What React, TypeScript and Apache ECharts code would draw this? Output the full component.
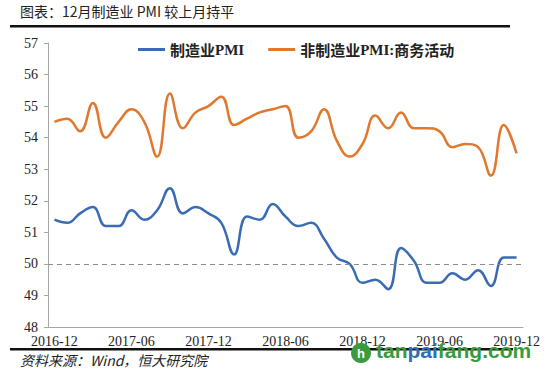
import React, { useEffect, useRef } from "react";
import * as echarts from "echarts";

const months: string[] = [
  "2016-12",
  "2017-01", "2017-02", "2017-03", "2017-04", "2017-05", "2017-06",
  "2017-07", "2017-08", "2017-09", "2017-10", "2017-11", "2017-12",
  "2018-01", "2018-02", "2018-03", "2018-04", "2018-05", "2018-06",
  "2018-07", "2018-08", "2018-09", "2018-10", "2018-11", "2018-12",
  "2019-01", "2019-02", "2019-03", "2019-04", "2019-05", "2019-06",
  "2019-07", "2019-08", "2019-09", "2019-10", "2019-11", "2019-12",
];

const manufacturingPMI: number[] = [
  51.4,
  51.3, 51.6, 51.8, 51.2, 51.2, 51.7,
  51.4, 51.7, 52.4, 51.6, 51.8, 51.6,
  51.3, 50.3, 51.5, 51.4, 51.9, 51.5,
  51.2, 51.3, 50.8, 50.2, 50.0, 49.4,
  49.5, 49.2, 50.5, 50.1, 49.4, 49.4,
  49.7, 49.5, 49.8, 49.3, 50.2, 50.2,
];

const nonManufacturingBA: number[] = [
  54.5,
  54.6, 54.2, 55.1, 54.0, 54.5, 54.9,
  54.5, 53.4, 55.4, 54.3, 54.8, 55.0,
  55.3, 54.4, 54.6, 54.8, 54.9, 55.0,
  54.0, 54.2, 54.9, 53.9, 53.4, 53.8,
  54.7, 54.3, 54.8, 54.3, 54.3, 54.2,
  53.7, 53.8, 53.7, 52.8, 54.4, 53.5,
];

const seriesNames: string[] = ["制造业PMI", "非制造业PMI:商务活动"];
const thresholdValue = 50;

export default function App() {
  const ref = useRef<HTMLDivElement>(null);

  useEffect(() => {
    if (!ref.current) return;
    const chart = echarts.init(ref.current, null, { renderer: "svg" });
    const serif = "'Liberation Serif', 'DejaVu Serif', serif";
    const cjk = "'Noto Sans CJK SC', sans-serif";

    chart.setOption({
      animation: false,
      backgroundColor: "#ffffff",
      grid: { left: 48, right: 27, top: 43, bottom: 48, containLabel: false },
      legend: {
        left: 133,
        top: 37,
        itemGap: 24,
        itemWidth: 27,
        itemHeight: 3,
        icon: "rect",
        data: seriesNames,
        formatter: (name: string) =>
          name === seriesNames[0]
            ? "{c|制造业}{s|PMI}"
            : "{c|非制造业}{s|PMI:}{c|商务活动}",
        textStyle: {
          rich: {
            c: { fontFamily: cjk, fontSize: 15, fontWeight: "bold", color: "#222" },
            s: { fontFamily: serif, fontSize: 15, fontWeight: "bold", color: "#222" },
          },
        },
      },
      xAxis: {
        type: "category",
        data: months,
        boundaryGap: true,
        axisLine: { lineStyle: { color: "#a6a6a6", width: 1 } },
        axisTick: { interval: 5, length: 4, lineStyle: { color: "#a6a6a6" } },
        axisLabel: {
          interval: 5,
          fontFamily: serif,
          fontSize: 14,
          color: "#222",
          margin: 7,
        },
        splitLine: { show: false },
      },
      yAxis: {
        type: "value",
        min: 48,
        max: 57,
        interval: 1,
        axisLine: { show: true, lineStyle: { color: "#a6a6a6", width: 1 } },
        axisTick: { show: true, length: 4, lineStyle: { color: "#a6a6a6" } },
        axisLabel: { fontFamily: serif, fontSize: 14, color: "#222", margin: 10 },
        splitLine: { show: false },
      },
      series: [
        {
          name: seriesNames[0],
          type: "line",
          data: manufacturingPMI,
          smooth: 0.45,
          showSymbol: false,
          symbol: "none",
          lineStyle: { color: "#3a6cb4", width: 2.5 },
          itemStyle: { color: "#3a6cb4" },
          markLine: {
            silent: true,
            symbol: "none",
            label: { show: false },
            lineStyle: { color: "#8c8c8c", type: [5, 4], width: 1 },
            data: [{ yAxis: thresholdValue }],
          },
          z: 3,
        },
        {
          name: seriesNames[1],
          type: "line",
          data: nonManufacturingBA,
          smooth: 0.45,
          showSymbol: false,
          symbol: "none",
          lineStyle: { color: "#e0782e", width: 2.5 },
          itemStyle: { color: "#e0782e" },
          z: 3,
        },
      ],
      graphic: [
        {
          type: "text",
          left: 20,
          top: 4,
          style: {
            text: "图表：12月制造业 PMI 较上月持平",
            font: `14px ${cjk}`,
            fill: "#222",
          },
        },
        {
          type: "rect",
          shape: { x: 10, y: 25, width: 500, height: 2.5 },
          style: { fill: "#111" },
        },
        {
          type: "rect",
          shape: { x: 10, y: 348, width: 503, height: 2.5 },
          style: { fill: "#111" },
        },
        {
          type: "text",
          left: 20,
          top: 353,
          style: {
            text: "资料来源：Wind，恒大研究院",
            font: `italic 14px ${cjk}`,
            fill: "#222",
          },
        },
        {
          type: "circle",
          shape: { cx: 361, cy: 353, r: 10 },
          style: { fill: "#3a9a3e" },
          z: 100,
        },
        {
          type: "text",
          x: 361,
          y: 353,
          style: {
            text: "h",
            font: "bold 13px 'Liberation Sans', sans-serif",
            fill: "#ffffff",
            align: "center",
            verticalAlign: "middle",
          },
          z: 101,
        },
        {
          type: "text",
          left: 376,
          top: 340,
          z: 100,
          style: {
            text: "{g|tan}{b|pai}{g|fang.com}",
            rich: {
              g: { font: "bold 21px 'Liberation Sans', sans-serif", fill: "#3a9a3e" },
              b: { font: "bold 21px 'Liberation Sans', sans-serif", fill: "#2f6fb5" },
            },
          },
        },
      ],
    });

    return () => chart.dispose();
  }, []);

  return (
    <div
      ref={ref}
      style={{ position: "fixed", left: 0, top: 0, width: 550, height: 375 }}
    />
  );
}
